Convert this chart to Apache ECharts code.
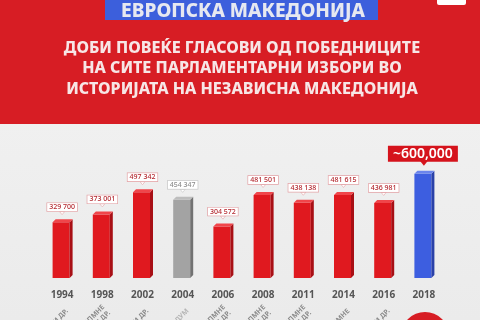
<!DOCTYPE html>
<html>
<head>
<meta charset="utf-8">
<script src="https://cdn.jsdelivr.net/npm/echarts@6/dist/echarts.min.js"></script>
<style>
  html, body { margin: 0; padding: 0; }
  #chart { width: 480px; height: 320px; }
</style>
</head>
<body>
<div id="chart"></div>
<script>
const years = ["1994", "1998", "2002", "2004", "2006", "2008", "2011", "2014", "2016", "2018"];
const votes = [329700, 373001, 497342, 454347, 304572, 481501, 438138, 481615, 436981, 600000];
const voteLabels = ["329 700", "373 001", "497 342", "454 347", "304 572", "481 501", "438 138", "481 615", "436 981", "~600,000"];
const kinds = ["win", "win", "win", "referendum", "win", "win", "win", "win", "win", "boycott"];
const winners = ["СДСМ И ДР.", "ВМРО-ДПМНЕ\nИ ДР.", "СДСМ И ДР.", "РЕФЕРЕНДУМ", "ВМРО-ДПМНЕ\nИ ДР.", "ВМРО-ДПМНЕ\nИ ДР.", "ВМРО-ДПМНЕ\nИ ДР.", "ВМРО-ДПМНЕ", "СДСМ И ДР.", ""];
const title = "ЕВРОПСКА МАКЕДОНИЈА";
const subtitle = [
  "ДОБИ ПОВЕЌЕ ГЛАСОВИ ОД ПОБЕДНИЦИТЕ",
  "НА СИТЕ ПАРЛАМЕНТАРНИ ИЗБОРИ ВО",
  "ИСТОРИЈАТА НА НЕЗАВИСНА МАКЕДОНИЈА"
];

const palette = {
  win: { front: "#e0191f", side: "#a80f15", top: "#f0454a", text: "#b3262d", border: "#e3a3a6", note: "#8a8a8a" },
  referendum: { front: "#a3a3a3", side: "#727272", top: "#bdbdbd", text: "#8d8d8d", border: "#c4c4c4", note: "#b5b5b5" },
  boycott: { front: "#3d5ee0", side: "#2a41a8", top: "#6a84ec", text: "#ffffff", border: "#d5131c", note: "#8a8a8a" }
};

const chart = echarts.init(document.getElementById("chart"), null, { renderer: "canvas" });
const font = "'Noto Sans', 'Open Sans', sans-serif";

function renderBar(params, api) {
  const i = params.dataIndex;
  const c = palette[kinds[i]];
  const top = api.coord([api.value(0), api.value(1)]);
  const base = api.coord([api.value(0), 0]);
  const w = 17, d = 3;
  const x0 = top[0] - w / 2 - 1;
  const y0 = top[1] + d;
  const big = kinds[i] === "boycott";
  const labelY = big ? top[1] - 17 : top[1] - 12;
  const twoLines = winners[i].indexOf("\n") >= 0;
  const children = [
    { type: "rect", shape: { x: x0, y: y0, width: w, height: base[1] - y0 }, style: { fill: c.front } },
    { type: "polygon", shape: { points: [[x0 + w, y0], [x0 + w + d, y0 - d], [x0 + w + d, base[1] - d], [x0 + w, base[1]]] }, style: { fill: c.side } },
    { type: "polygon", shape: { points: [[x0, y0], [x0 + d, y0 - d], [x0 + w + d, y0 - d], [x0 + w, y0]] }, style: { fill: c.top } },
    {
      type: "polygon",
      shape: { points: big
        ? [[top[0] - 4, labelY + 7], [top[0] + 4, labelY + 7], [top[0], labelY + 12]]
        : [[top[0] - 2.5, labelY + 4.5], [top[0] + 2.5, labelY + 4.5], [top[0], labelY + 7.5]] },
      style: { fill: big ? c.border : "#ffffff", stroke: big ? null : c.border, lineWidth: 0.6 }
    },
    {
      type: "text",
      style: {
        text: voteLabels[i],
        x: top[0] + (big ? -1 : 0),
        y: labelY,
        align: "center",
        verticalAlign: "middle",
        font: big ? "600 14px " + font : "500 7px " + font,
        fill: c.text,
        backgroundColor: big ? c.border : "#ffffff",
        borderColor: c.border,
        borderWidth: big ? 0 : 0.7,
        padding: big ? [1, 5, 1, 5] : [1, 2, 0, 2]
      }
    },
    {
      type: "text",
      x: top[0] + (twoLines ? 4 : 5),
      y: base[1] + (twoLines ? 31 : 32),
      rotation: Math.PI / 4,
      style: {
        text: winners[i],
        x: 0,
        y: 0,
        align: "right",
        verticalAlign: "middle",
        lineHeight: 8,
        font: "700 7px " + font,
        fill: c.note
      }
    }
  ];
  return { type: "group", children };
}

chart.setOption({
  animation: false,
  backgroundColor: {
    type: "linear", x: 0, y: 0, x2: 0, y2: 1,
    colorStops: [{ offset: 0, color: "#f3f3f3" }, { offset: 1, color: "#ebebeb" }]
  },
  graphic: [
    { type: "rect", shape: { x: 0, y: 0, width: 480, height: 124 }, style: { fill: "#d71d24" }, z: 0 },
    { type: "rect", shape: { x: 105, y: -4, width: 273, height: 24 }, style: { fill: "#3c5fdc" }, z: 1 },
    { type: "text", style: { text: title, x: 243, y: 11.5, align: "center", verticalAlign: "middle", font: "800 19px " + font, fill: "#e6e8f0" }, z: 2 },
    { type: "rect", shape: { x: 437, y: -4, width: 29, height: 9, r: 2 }, style: { fill: "#ffffff" }, z: 1 },
    { type: "text", style: { text: subtitle.join("\n"), x: 242, y: 68.5, align: "center", verticalAlign: "middle", lineHeight: 20.5, font: "800 16px " + font, fill: "#f7e6e6" }, z: 2 },
    { type: "circle", shape: { cx: 425, cy: 336, r: 24 }, style: { fill: "#d71d24" }, z: 1 }
  ],
  grid: { left: 42, right: 36, top: 128, bottom: 42, outerBoundsMode: "none" },
  xAxis: {
    type: "category",
    data: years,
    axisLine: { show: false },
    axisTick: { show: false },
    axisLabel: { margin: 12, color: "#555555", fontFamily: font, fontWeight: 700, fontSize: 10 }
  },
  yAxis: { type: "value", min: 0, max: 840000, show: false },
  series: [{
    type: "custom",
    renderItem: renderBar,
    data: votes.map((v, i) => [i, v]),
    clip: false
  }]
});
</script>
</body>
</html>
